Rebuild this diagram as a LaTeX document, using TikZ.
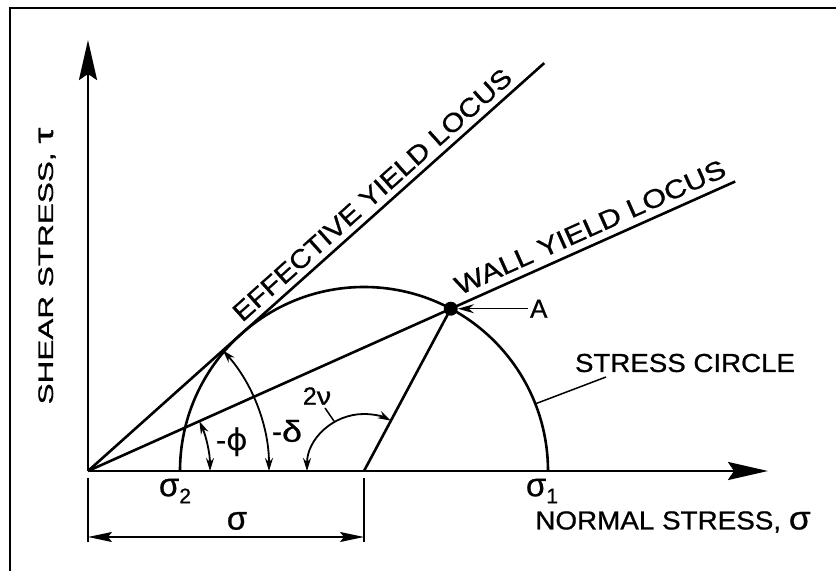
\documentclass[tikz,border=0pt]{standalone}
\usepackage{fontspec}
\setmainfont{Liberation Sans}[FakeBold=0.8]
\newfontfamily\grkfont{Liberation Sans}[FakeBold=0.8]
\newfontfamily\phifont{DejaVu Sans}
\usetikzlibrary{arrows.meta,calc}
\begin{document}
\begin{tikzpicture}[x=1pt,y=1pt,
  axisline/.style={line width=2.8pt, -{Stealth[length=40pt,width=18pt,inset=6pt]}},
  heavy/.style={line width=2.6pt},
  thinarc/.style={line width=1.8pt, {Stealth[length=13pt,width=8pt]}-{Stealth[length=13pt,width=8pt]}},
  dimline/.style={line width=1.5pt, {Stealth[length=24pt,width=10pt,inset=4pt]}-{Stealth[length=24pt,width=10pt,inset=4pt]}},
  tickline/.style={line width=1.6pt},
  leader/.style={line width=1.5pt},
  lbl/.style={inner sep=0pt, font=\fontsize{26}{30}\selectfont},
  grk/.style={inner sep=0pt, font=\fontsize{30}{34}\selectfont},
  sig/.style={inner sep=0pt, font=\fontsize{33}{38}\selectfont}
]
\useasboundingbox (0,0) rectangle (836,571);
% frame
\draw[line width=2.5pt] (10,0) -- (10,563) -- (836,563);

% key points
\coordinate (O) at (88,100);
\coordinate (C) at (364,100);
\coordinate (S2) at (180,100);
\coordinate (S1) at (548,100);
\coordinate (A) at ($(O)+(24.1:397.4)$);
\coordinate (Wend) at ($(O)+(24.1:709)$);
\coordinate (Eend) at ($(O)+(41.8:612)$);
\coordinate (Xend) at (768,100);
\coordinate (Yend) at (88,531);

% axes
\draw[axisline] (O) -- (Xend);
\draw[axisline] (O) -- (Yend);

% yield loci
\draw[heavy] (O) -- (Eend) node[pos=0.647, sloped, above=6pt, lbl] (efl) {\scalebox{1.13}[1]{EFFECTIVE YIELD LOCUS}};
\draw[heavy] (O) -- (Wend) node[pos=0.787, sloped, above=7pt, lbl] (wyl) {\scalebox{1.18}[1]{WALL YIELD LOCUS}};

% stress circle
\draw[heavy] (S1) arc[start angle=0, end angle=180, radius=184];
\draw[heavy] (C) -- (A);
\node[circle, fill=black, inner sep=0pt, minimum size=14pt] (Adot) at (A) {};

% label A
\node[lbl, inner sep=2pt] (Alab) at ($(A)+(88,0)$) {A};
\draw[line width=1.5pt, -{Stealth[length=16pt,width=9pt]}] (Alab.west) -- (Adot.east);

% stress circle label
\node[lbl] (scl) at (685,208) {\scalebox{1.065}[1]{STRESS CIRCLE}};
\coordinate (L1) at (606,194);
\coordinate (L2) at ($(C)+(21.4:184)$);
\draw[leader] (L1) -- (L2);

% angle arcs
\draw[thinarc] ($(O)+(0:122)$) arc[start angle=0, end angle=24.1, radius=122];
\draw[thinarc] ($(O)+(0:181)$) arc[start angle=0, end angle=41.8, radius=181];
\draw[thinarc] ($(C)+(180:57)$) arc[start angle=180, end angle=62, radius=57];

\node[grk] (phil) at (232,129) {-\scalebox{1.1}[1]{\phifont\fontsize{30}{34}\selectfont ϕ}};
\node[grk] (dell) at (287,140) {-\scalebox{1.2}[1]{\grkfont δ}};
\node[inner sep=0pt, font=\fontsize{25}{28}\selectfont\grkfont] (nul) at (317,175) {2\scalebox{1.15}[1]{ν}};
\coordinate (N1) at (325,163);
\coordinate (N2) at ($(C)+(121:58)$);
\draw[leader] (N1) -- (N2);

% sigma labels
\node[sig] (s2l) at (175,80) {\grkfont σ\raisebox{-7pt}{\fontsize{21}{24}\selectfont 2}};
\node[sig] (s1l) at (542,80) {\grkfont σ\raisebox{-7pt}{\fontsize{21}{24}\selectfont 1}};

% dimension sigma
\coordinate (T1a) at (88,93);
\coordinate (T1b) at (88,29);
\coordinate (T2a) at (364,93);
\coordinate (T2b) at (364,29);
\draw[tickline] (T1a) -- (T1b);
\draw[tickline] (T2a) -- (T2b);
\coordinate (D1) at (88,34);
\coordinate (D2) at (364,34);
\draw[dimline] (D1) -- (D2);
\node[sig] (sdl) at (237,50) {\grkfont σ};

% axis labels
\node[lbl] (xlab) at (673,49) {\scalebox{1.07}[1]{NORMAL STRESS, {\grkfont\fontsize{33}{38}\selectfont σ}}};
\node[inner sep=0pt, font=\fontsize{21}{25}\selectfont, rotate=90] (ylab) at (47,305) {\scalebox{1.5}[1]{SHEAR STRESS, {\grkfont\fontsize{27}{30}\selectfont τ}}};
\end{tikzpicture}
\end{document}
